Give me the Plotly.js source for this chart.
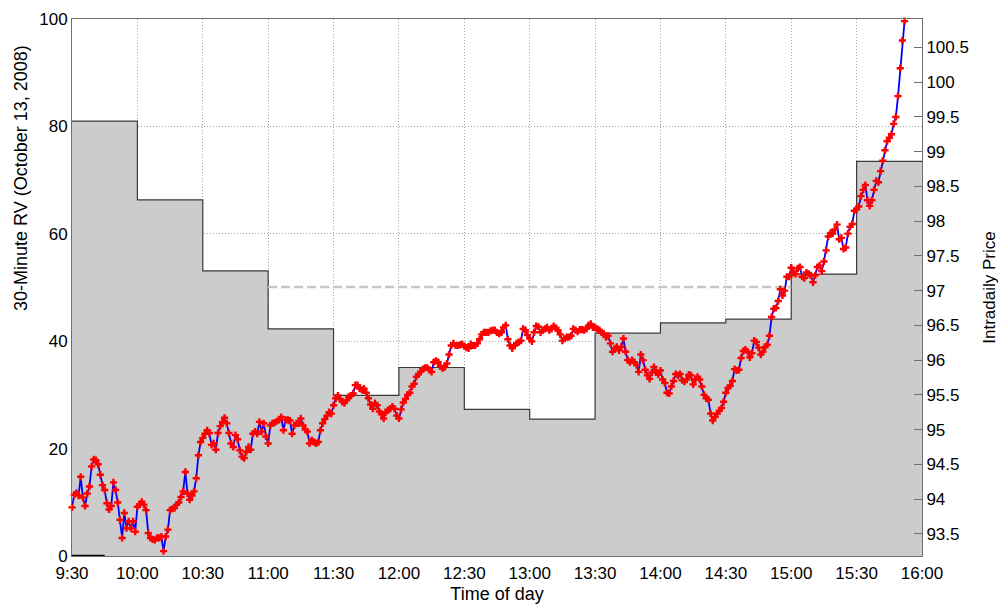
<!DOCTYPE html>
<html>
<head>
<meta charset="utf-8">
<script src="https://cdn.plot.ly/plotly-3.0.1.min.js"></script>
<style>
  html, body { margin: 0; padding: 0; background: #ffffff; }
  #chart { width: 1000px; height: 605px; }
</style>
</head>
<body>
<div id="chart"></div>
<script>
// Half-hour realized-volatility blocks: start of each block (minutes after 9:30) and its RV
const rvStart = [0, 30, 60, 90, 120, 150, 180, 210, 240, 270, 300, 330, 360];
const rvValue = [81.0, 66.3, 53.1, 42.3, 29.9, 35.1, 27.3, 25.5, 41.5, 43.4, 44.1, 52.5, 73.5];
const sessionEnd = 390;

// Average RV level drawn from 11:00 to 15:00
const rvMeanLevel = 50.1;
const rvMeanSpan = [90, 330];

// Short baseline mark at the open
const openMarkSpan = [0, 15];
const openMarkLevel = 0;

// Axis ticks
const timeTicks = [0, 30, 60, 90, 120, 150, 180, 210, 240, 270, 300, 330, 360, 390];
const timeLabels = ['9:30', '10:00', '10:30', '11:00', '11:30', '12:00', '12:30',
                    '13:00', '13:30', '14:00', '14:30', '15:00', '15:30', '16:00'];
const rvTicks = [0, 20, 40, 60, 80, 100];
const priceTicks = [93.5, 94, 94.5, 95, 95.5, 96, 96.5, 97, 97.5, 98, 98.5, 99, 99.5, 100, 100.5];
const priceTickLabels = ['93.5', '94', '94.5', '95', '95.5', '96', '96.5', '97', '97.5',
                         '98', '98.5', '99', '99.5', '100', '100.5'];

// One-minute intraday prices from the open
const price = [
  93.88, 94.06, 94.09, 94.05, 94.32, 94.02, 93.90, 94.08, 94.18, 94.47,
  94.57, 94.56, 94.50, 94.35, 94.20, 94.13, 93.94, 93.85, 93.90, 94.24,
  94.13, 93.95, 93.70, 93.44, 93.80, 93.58, 93.68, 93.58, 93.68, 93.53,
  93.89, 93.92, 93.96, 93.92, 93.84, 93.51, 93.44, 93.42, 93.41, 93.44,
  93.44, 93.46, 93.25, 93.46, 93.56, 93.84, 93.86, 93.87, 93.92, 93.95,
  94.03, 94.11, 94.39, 94.08, 93.99, 94.05, 94.11, 94.30, 94.63, 94.82,
  94.88, 94.94, 94.99, 94.95, 94.78,
  94.80, 94.71, 94.95, 95.05, 95.11, 95.17, 95.09, 94.95, 94.80, 94.75,
  94.92, 94.86, 94.70, 94.61, 94.59, 94.68, 94.75, 94.71, 94.94, 94.97,
  94.94, 95.11, 94.97, 95.09, 94.90, 94.80, 95.06, 95.09, 95.10, 95.12,
  95.14, 95.18, 94.99, 95.14, 95.14, 95.13, 94.94, 95.06, 95.09, 95.09,
  95.16, 95.06, 95.00, 94.97, 94.80, 94.85, 94.82, 94.80, 94.82, 94.99,
  95.09, 95.15, 95.20, 95.25, 95.23, 95.35, 95.45, 95.49, 95.44, 95.40,
  95.38, 95.42, 95.47, 95.49, 95.52, 95.64, 95.64, 95.59,
  95.57, 95.59, 95.53, 95.45, 95.36, 95.30, 95.38, 95.35, 95.26, 95.22,
  95.16, 95.25, 95.28, 95.30, 95.33, 95.30, 95.20, 95.16, 95.29, 95.39,
  95.44, 95.50, 95.53, 95.62, 95.66, 95.76, 95.80, 95.83,
  95.87, 95.89, 95.89, 95.86, 95.83, 95.97, 95.99, 95.97, 95.91, 95.88,
  95.90, 95.95, 96.08, 96.21, 96.24, 96.21, 96.21, 96.22, 96.23, 96.20,
  96.18, 96.17, 96.23, 96.21, 96.21, 96.24, 96.30, 96.37, 96.40, 96.40,
  96.40, 96.42, 96.43, 96.43, 96.40, 96.38, 96.40,
  96.47, 96.50, 96.30, 96.21, 96.17, 96.21, 96.24, 96.26, 96.28, 96.45,
  96.43, 96.36, 96.31, 96.27, 96.40, 96.49, 96.48, 96.40, 96.43, 96.45,
  96.47, 96.43, 96.45, 96.49, 96.46, 96.43, 96.37, 96.28, 96.31, 96.33,
  96.33, 96.35, 96.45, 96.43, 96.41, 96.44, 96.44, 96.43, 96.45, 96.50,
  96.52, 96.47, 96.47, 96.45, 96.43, 96.40, 96.38, 96.33, 96.35, 96.24,
  96.12, 96.17, 96.19, 96.14, 96.19, 96.31, 96.12, 96.00, 95.97, 96.00,
  95.97, 95.93, 95.83, 96.08, 96.00, 95.86, 95.78, 95.73,
  95.82, 95.90, 95.83, 95.79, 95.85, 95.72, 95.67, 95.53, 95.52, 95.62,
  95.70, 95.80, 95.78, 95.80, 95.71, 95.69, 95.72, 95.79, 95.78, 95.65,
  95.72, 95.76, 95.72, 95.62, 95.50, 95.45, 95.43, 95.23, 95.13, 95.18,
  95.23, 95.27, 95.31, 95.40, 95.53, 95.60, 95.63, 95.70, 95.87, 95.85,
  95.86, 96.03, 96.13, 96.15, 96.12, 96.04, 96.10, 96.28, 96.26, 96.18,
  96.08, 96.12, 96.19, 96.22, 96.35, 96.62, 96.74, 96.75, 96.85, 97.02,
  96.93, 97.00, 97.20, 97.20, 97.33, 97.26,
  97.24, 97.32, 97.34, 97.20, 97.18, 97.26, 97.24, 97.22, 97.12, 97.22,
  97.34, 97.36, 97.28, 97.42, 97.58, 97.78, 97.83, 97.82, 97.88, 97.95,
  97.74, 97.76, 97.60, 97.62, 97.82, 97.92, 97.96, 98.15, 98.17, 98.21,
  98.36, 98.45, 98.52, 98.30, 98.22, 98.30, 98.45, 98.58, 98.56, 98.72,
  98.87, 99.02, 99.15, 99.20, 99.25, 99.40, 99.50, 99.80, 100.20, 100.60,
  100.88
];
const priceMinute = price.map((_, i) => i);

// Step outline: repeat the last block value at the close
const stepX = rvStart.concat([sessionEnd]);
const stepY = rvValue.concat([rvValue[rvValue.length - 1]]);

const FONT = 'Liberation Sans, Arial, Helvetica, sans-serif';
const AXIS_GRAY = '#6f6f6f';
const GRID_GRAY = '#a4a4a4';

const traces = [
  {
    x: stepX, y: stepY, type: 'scatter', mode: 'lines',
    line: { shape: 'hv', color: '#3a3a3a', width: 1.2 },
    fill: 'tozeroy', fillcolor: '#cccccc',
    hoverinfo: 'skip', xaxis: 'x', yaxis: 'y'
  },
  {
    x: rvMeanSpan, y: [rvMeanLevel, rvMeanLevel], type: 'scatter', mode: 'lines',
    line: { color: '#c6c6c6', width: 2.5, dash: '9px,4px' },
    hoverinfo: 'skip', xaxis: 'x', yaxis: 'y'
  },
  {
    x: openMarkSpan, y: [openMarkLevel, openMarkLevel], type: 'scatter', mode: 'lines',
    line: { color: '#000000', width: 2.5 },
    hoverinfo: 'skip', xaxis: 'x', yaxis: 'y'
  },
  {
    x: priceMinute, y: price, type: 'scatter', mode: 'lines+markers',
    line: { color: '#0000ff', width: 1.8 },
    marker: { symbol: 'cross', size: 6, color: '#ff0000', line: { width: 0 } },
    cliponaxis: false,
    xaxis: 'x', yaxis: 'y2'
  }
];

const layout = {
  width: 1000, height: 605,
  margin: { l: 72, r: 78, t: 19, b: 49, pad: 0 },
  paper_bgcolor: '#ffffff', plot_bgcolor: '#ffffff',
  showlegend: false,
  font: { family: FONT, size: 17, color: '#000000' },
  xaxis: {
    range: [0, sessionEnd], tickmode: 'array', tickvals: timeTicks, ticktext: timeLabels,
    showgrid: true, gridcolor: GRID_GRAY, griddash: '1px,2px', gridwidth: 1,
    zeroline: false, showline: true, linecolor: AXIS_GRAY, linewidth: 1, mirror: true,
    ticks: '', ticklabelstandoff: 2, tickfont: { family: FONT, size: 17 },
    title: { text: 'Time of day', font: { family: FONT, size: 18 }, standoff: 4 },
    automargin: false
  },
  yaxis: {
    range: [0, 100], tickmode: 'array', tickvals: rvTicks,
    showgrid: true, gridcolor: GRID_GRAY, griddash: '1px,2px', gridwidth: 1,
    zeroline: false, showline: true, linecolor: AXIS_GRAY, linewidth: 1,
    ticks: '', tickfont: { family: FONT, size: 17 },
    automargin: false
  },
  yaxis2: {
    overlaying: 'y', side: 'right', anchor: 'x',
    range: [93.18, 100.91], tickmode: 'array', tickvals: priceTicks, ticktext: priceTickLabels,
    showgrid: false, zeroline: false, showline: true, linecolor: AXIS_GRAY, linewidth: 1,
    ticks: 'inside', ticklen: 8, tickwidth: 1, tickcolor: AXIS_GRAY,
    tickfont: { family: FONT, size: 17 },
    title: { text: 'Intradaily Price', font: { family: FONT, size: 17 }, standoff: 15 },
    automargin: false
  },
  annotations: [
    {
      // left axis label, set in the upper part of the margin
      text: '30-Minute RV (October 13, 2008)',
      xref: 'paper', yref: 'paper', x: -0.06, y: 0.704,
      xanchor: 'center', yanchor: 'middle', textangle: -90,
      showarrow: false, font: { family: FONT, size: 18, color: '#000000' }
    }
  ]
};

Plotly.newPlot('chart', traces, layout, { staticPlot: true, displayModeBar: false });
</script>
</body>
</html>
